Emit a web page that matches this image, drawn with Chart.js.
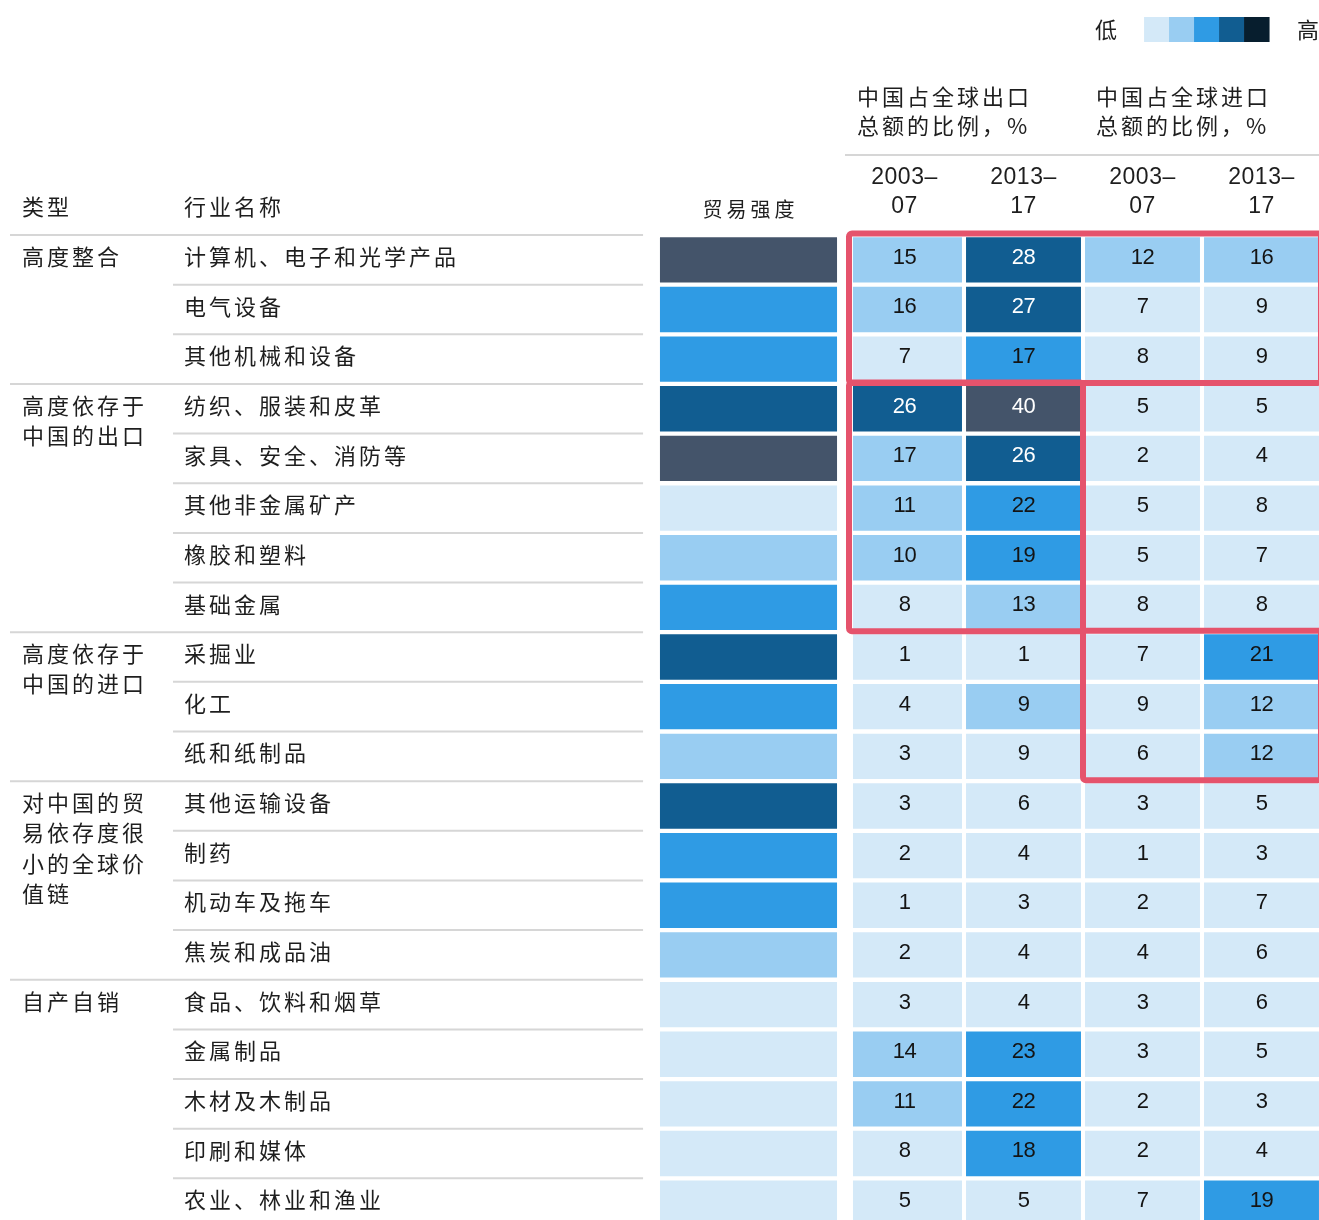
<!DOCTYPE html>
<html><head><meta charset="utf-8">
<script src="https://cdn.jsdelivr.net/npm/chart.js@4/dist/chart.umd.min.js"></script>
<style>html,body{margin:0;padding:0;background:#fff;overflow:hidden}canvas{display:block}</style>
</head><body>
<canvas id="c" width="1319" height="1220"></canvas>
<script>
// ---------- data ----------
const industryNames = ["计算机、电子和光学产品","电气设备","其他机械和设备","纺织、服装和皮革","家具、安全、消防等","其他非金属矿产","橡胶和塑料","基础金属","采掘业","化工","纸和纸制品","其他运输设备","制药","机动车及拖车","焦炭和成品油","食品、饮料和烟草","金属制品","木材及木制品","印刷和媒体","农业、林业和渔业"];
const groupLabels = [["高度整合"],["高度依存于","中国的出口"],["高度依存于","中国的进口"],["对中国的贸","易依存度很","小的全球价","值链"],["自产自销"]];
const groupStartRows = [0,3,8,11,15];
const tradeIntensityLevel = [5,3,3,4,5,1,2,3,4,3,2,4,3,3,2,1,1,1,1,1];
const exportShare0307 = [15,16,7,26,17,11,10,8,1,4,3,3,2,1,2,3,14,11,8,5];
const exportShare1317 = [28,27,17,40,26,22,19,13,1,9,9,6,4,3,4,4,23,22,18,5];
const importShare0307 = [12,7,8,5,2,5,5,8,7,9,6,3,1,2,4,3,3,2,2,7];
const importShare1317 = [16,9,9,5,4,8,7,8,21,12,12,5,3,7,6,6,5,3,4,19];
const exportLevel0307 = [2,2,1,4,2,2,2,1,1,1,1,1,1,1,1,1,2,2,1,1];
const exportLevel1317 = [4,4,3,5,4,3,3,2,1,2,1,1,1,1,1,1,3,3,3,1];
const importLevel0307 = [2,1,1,1,1,1,1,1,1,1,1,1,1,1,1,1,1,1,1,1];
const importLevel1317 = [2,1,1,1,1,1,1,1,3,2,2,1,1,1,1,1,1,1,1,3];
const periodLabels = [["2003–","07"],["2013–","17"],["2003–","07"],["2013–","17"]];
const shareGroupTitles = [["中国占全球出口","总额的比例，%"],["中国占全球进口","总额的比例，%"]];
const columnTitles = ["类型","行业名称","贸易强度"];
const legendEnds = ["低","高"];
const highlightBoxes = [{rows:[0,3],cols:[1,4]},{rows:[3,8],cols:[1,2]},{rows:[8,11],cols:[3,4]}];

// ---------- styles ----------
const levelColors = ["#d4e9f8","#99cdf2","#2f9be4","#115d91","#44546a"];
const legendColors = ["#d4e9f8","#99cdf2","#2f9be4","#115d91","#071e2e"];
const CJK = '"Noto Sans CJK SC", "Noto Sans", sans-serif';
const NUM = '"Liberation Sans", Arial, sans-serif';
const TEXT = "#1e1e1e";
const RULE = "#d6d6d6";
const RED = "#e5536c";

// layout in scale units (x: column index, y: row index)
const X_MIN = -6.601, X_MAX = 4.4832, Y_MIN = -4.7331, Y_MAX = 19.839;
const L = {
  typeX: -6.416, nameX: -5.055, ruleOuterX: -6.517, ruleInnerX: -5.147, ruleEndX: -1.197,
  tradeL: -1.055, tradeR: 0.433, gap: 0.017, firstColInset: 0.067,
  groupTitleX: [0.601, 2.609], groupTitleY: [-2.779, -2.195], groupRuleY: -1.611,
  periodY: [-1.15, -0.565], titleY: -0.564, tradeTitleY: -0.524,
  legendY: -4.139, legendHalfH: 0.2518, legendLowX: 2.601, legendSwatchX: 3.013, legendSwatchW: 0.2101, legendHighX: 4.298,
  textShift: -0.065, lineStep: 0.61, numShift: 0.08
};

const rows = industryNames.map((_, i) => i);
const valueCols = [exportShare0307, exportShare1317, importShare0307, importShare1317];
const levelCols = [exportLevel0307, exportLevel1317, importLevel0307, importLevel1317];

const datasets = [{
  label: "贸易强度",
  data: rows.map(i => ({x: [L.tradeL, L.tradeR], y: i + 0.5})),
  backgroundColor: tradeIntensityLevel.map(l => levelColors[l - 1])
}];
valueCols.forEach((vals, c) => {
  const k = c + 1;
  const lo = k - 0.5 + (k === 1 ? L.firstColInset : L.gap), hi = k + 0.5 - L.gap;
  datasets.push({
    label: "col" + k,
    col: k,
    values: vals,
    levels: levelCols[c],
    data: rows.map(i => ({x: [lo, hi], y: i + 0.5})),
    backgroundColor: levelCols[c].map(l => levelColors[l - 1])
  });
});

function text(ctx, s, x, y, font, color, align, baseline, spacing) {
  ctx.save();
  ctx.font = font; ctx.fillStyle = color; ctx.textAlign = align; ctx.textBaseline = baseline;
  ctx.letterSpacing = (spacing || 0) + "px";
  ctx.fillText(s, x, y);
  ctx.restore();
}

const tablePlugin = {
  id: "tablePlugin",
  afterDatasetsDraw(chart) {
    const ctx = chart.ctx, xs = chart.scales.x, ys = chart.scales.y;
    const px = u => xs.getPixelForValue(u), py = v => ys.getPixelForValue(v);
    const cjkFont = "22px " + CJK;

    // legend
    text(ctx, legendEnds[0], px(L.legendLowX), py(L.legendY), cjkFont, TEXT, "left", "middle");
    legendColors.forEach((col, i) => {
      const x0 = px(L.legendSwatchX + i * L.legendSwatchW), x1 = px(L.legendSwatchX + (i + 1) * L.legendSwatchW);
      ctx.fillStyle = col;
      ctx.fillRect(x0, py(L.legendY - L.legendHalfH), x1 - x0 + 0.5, py(L.legendY + L.legendHalfH) - py(L.legendY - L.legendHalfH));
    });
    text(ctx, legendEnds[1], px(L.legendHighX), py(L.legendY), cjkFont, TEXT, "left", "middle");

    // group titles
    shareGroupTitles.forEach((lines, g) => {
      lines.forEach((s, j) => text(ctx, s, px(L.groupTitleX[g]), py(L.groupTitleY[j]), cjkFont, TEXT, "left", "middle", 3));
    });
    ctx.strokeStyle = RULE; ctx.lineWidth = 2;
    ctx.beginPath(); ctx.moveTo(px(0.5), py(L.groupRuleY)); ctx.lineTo(px(X_MAX), py(L.groupRuleY)); ctx.stroke();

    // period headers
    periodLabels.forEach((lines, c) => {
      lines.forEach((s, j) => text(ctx, s, px(c + 1), py(L.periodY[j]), "23px " + NUM, TEXT, "center", "middle", 0.5));
    });

    // column titles
    text(ctx, columnTitles[0], px(L.typeX), py(L.titleY), cjkFont, TEXT, "left", "middle", 3);
    text(ctx, columnTitles[1], px(L.nameX), py(L.titleY), cjkFont, TEXT, "left", "middle", 3);
    text(ctx, columnTitles[2], px((L.tradeL + L.tradeR) / 2) + 2, py(L.tradeTitleY), "20px " + CJK, TEXT, "center", "middle", 4);

    // row rules
    ctx.strokeStyle = RULE; ctx.lineWidth = 2;
    rows.forEach(i => {
      const outer = groupStartRows.includes(i);
      ctx.beginPath();
      ctx.moveTo(px(outer ? L.ruleOuterX : L.ruleInnerX), py(i));
      ctx.lineTo(px(L.ruleEndX), py(i));
      ctx.stroke();
    });

    // industry names
    industryNames.forEach((s, i) => text(ctx, s, px(L.nameX), py(i + 0.5 + L.textShift), cjkFont, TEXT, "left", "middle", 3));
    // group labels
    groupLabels.forEach((lines, g) => {
      lines.forEach((s, j) => text(ctx, s, px(L.typeX), py(groupStartRows[g] + 0.5 + L.textShift + j * L.lineStep), cjkFont, TEXT, "left", "middle", 3));
    });

    // cell values
    chart.data.datasets.forEach((ds, d) => {
      if (!ds.values) return;
      const meta = chart.getDatasetMeta(d);
      meta.data.forEach((el, i) => {
        const col = ds.levels[i] >= 4 ? "#ffffff" : "#141414";
        text(ctx, String(ds.values[i]), px(ds.col), py(i + 0.5 + L.numShift), "22px " + NUM, col, "center", "alphabetic", -0.5);
      });
    });

    // highlight boxes
    ctx.save();
    ctx.strokeStyle = RED; ctx.lineWidth = 6; ctx.lineJoin = "round";
    highlightBoxes.forEach(b => {
      const x0 = px(b.cols[0] - 0.5) + (b.cols[0] === 1 ? 4 : 0);
      const x1 = px(b.cols[1] + 0.5);
      const y0 = py(b.rows[0]) - 1.5, y1 = py(b.rows[1]) - 1;
      ctx.beginPath();
      ctx.roundRect(x0, y0, x1 - x0, y1 - y0, 3);
      ctx.stroke();
    });
    ctx.restore();
  }
};

new Chart(document.getElementById("c"), {
  type: "bar",
  data: {datasets},
  options: {
    responsive: false, animation: false, indexAxis: "y",
    layout: {padding: 0},
    plugins: {legend: {display: false}, tooltip: {enabled: false}},
    datasets: {bar: {grouped: false, barPercentage: 0.914, categoryPercentage: 1, borderWidth: 0, inflateAmount: 0}},
    scales: {
      x: {type: "linear", min: X_MIN, max: X_MAX, display: false, offset: false},
      y: {type: "linear", min: Y_MIN, max: Y_MAX, reverse: true, display: false, offset: false, grid: {offset: false}, ticks: {stepSize: 1, includeBounds: false}}
    }
  },
  plugins: [tablePlugin]
});
</script>
</body></html>
